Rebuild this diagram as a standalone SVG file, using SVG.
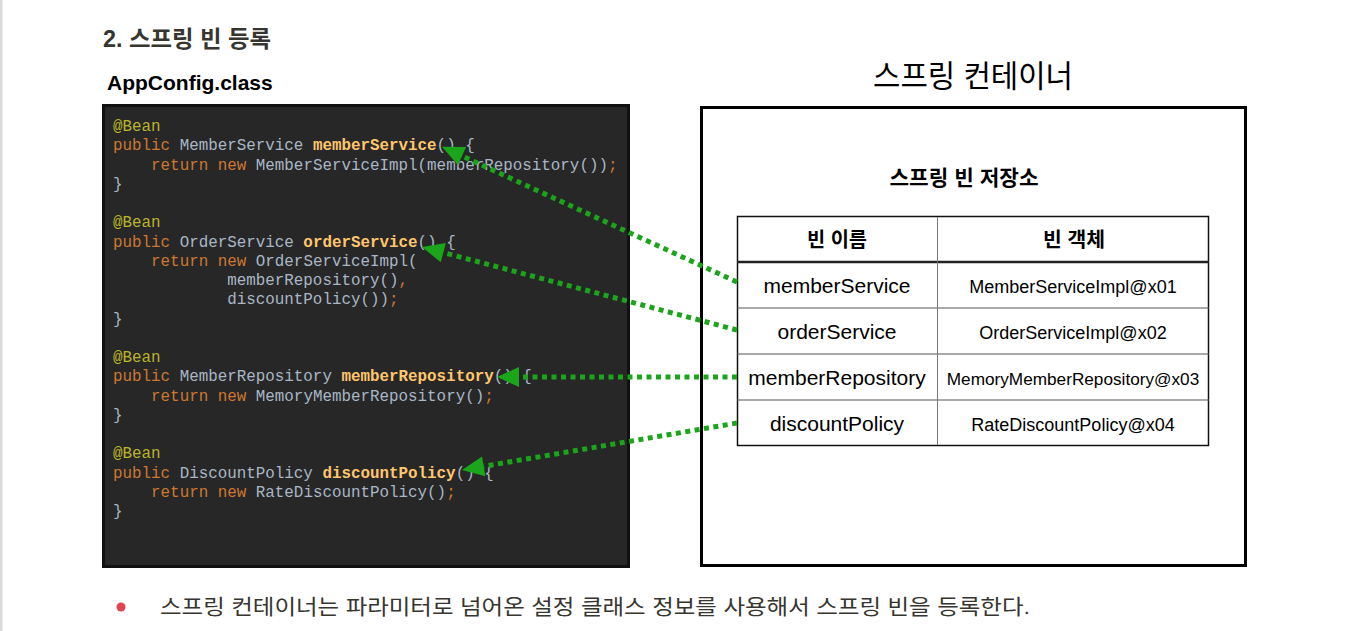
<svg xmlns="http://www.w3.org/2000/svg" width="1345" height="631" viewBox="0 0 1345 631">
<style>
.code{font-family:"Liberation Mono","DejaVu Sans Mono",monospace;font-size:15.87px;fill:#a9b7c6;white-space:pre}
.an{fill:#bbb529}
.kw{fill:#cc7832}
.me{fill:#ffc66d;font-weight:bold}
.ko{font-family:"Liberation Sans","Noto Sans CJK KR",sans-serif}
.cell{font-family:"Liberation Sans","Noto Sans CJK KR",sans-serif;fill:#000;text-anchor:middle}
.conn{fill:none;stroke:#1aa51a;stroke-width:5;stroke-dasharray:5 4.5;marker-end:url(#ah)}
.grid{stroke:#555;stroke-width:1}
</style>
<defs>
<marker id="ah" markerUnits="userSpaceOnUse" viewBox="0 -10 22 20" markerWidth="22" markerHeight="20" refX="0" refY="0" orient="auto" overflow="visible">
<path d="M0,-10 L22,0 L0,10 Z" fill="#1aa51a"/>
</marker>
</defs>
<rect width="1345" height="631" fill="#fff"/>
<rect x="0" y="0" width="2.5" height="631" fill="#d9d9d9"/>

<g id="heading">
<text class="ko" x="103" y="47" font-size="23" font-weight="bold" fill="#37352f" textLength="168" lengthAdjust="spacingAndGlyphs">2. 스프링 빈 등록</text>
</g>

<g id="appconfig">
<text class="ko" x="107" y="90" font-size="21" font-weight="bold" fill="#000">AppConfig.class</text>
<rect x="103.5" y="105.5" width="525" height="461" fill="#272727" stroke="#111" stroke-width="3"/>
<text class="code" xml:space="preserve" x="113" y="131"><tspan class="an">@Bean</tspan></text>
<text class="code" xml:space="preserve" x="113" y="150.25"><tspan class="kw">public</tspan> MemberService <tspan class="me">memberService</tspan>() {</text>
<text class="code" xml:space="preserve" x="113" y="169.5">    <tspan class="kw">return</tspan> <tspan class="kw">new</tspan> MemberServiceImpl(memberRepository())<tspan class="kw">;</tspan></text>
<text class="code" xml:space="preserve" x="113" y="188.75">}</text>
<text class="code" xml:space="preserve" x="113" y="227.25"><tspan class="an">@Bean</tspan></text>
<text class="code" xml:space="preserve" x="113" y="246.5"><tspan class="kw">public</tspan> OrderService <tspan class="me">orderService</tspan>() {</text>
<text class="code" xml:space="preserve" x="113" y="265.75">    <tspan class="kw">return</tspan> <tspan class="kw">new</tspan> OrderServiceImpl(</text>
<text class="code" xml:space="preserve" x="113" y="285">            memberRepository()<tspan class="kw">,</tspan></text>
<text class="code" xml:space="preserve" x="113" y="304.25">            discountPolicy())<tspan class="kw">;</tspan></text>
<text class="code" xml:space="preserve" x="113" y="323.5">}</text>
<text class="code" xml:space="preserve" x="113" y="362"><tspan class="an">@Bean</tspan></text>
<text class="code" xml:space="preserve" x="113" y="381.25"><tspan class="kw">public</tspan> MemberRepository <tspan class="me">memberRepository</tspan>() {</text>
<text class="code" xml:space="preserve" x="113" y="400.5">    <tspan class="kw">return</tspan> <tspan class="kw">new</tspan> MemoryMemberRepository()<tspan class="kw">;</tspan></text>
<text class="code" xml:space="preserve" x="113" y="419.75">}</text>
<text class="code" xml:space="preserve" x="113" y="458.25"><tspan class="an">@Bean</tspan></text>
<text class="code" xml:space="preserve" x="113" y="477.5"><tspan class="kw">public</tspan> DiscountPolicy <tspan class="me">discountPolicy</tspan>() {</text>
<text class="code" xml:space="preserve" x="113" y="496.75">    <tspan class="kw">return</tspan> <tspan class="kw">new</tspan> RateDiscountPolicy()<tspan class="kw">;</tspan></text>
<text class="code" xml:space="preserve" x="113" y="516">}</text>
</g>

<g id="spring-container">
<text class="ko" x="973" y="87" font-size="31" fill="#000" text-anchor="middle" textLength="200" lengthAdjust="spacingAndGlyphs">스프링 컨테이너</text>
<rect x="701.5" y="107.5" width="544" height="458" fill="#fff" stroke="#000" stroke-width="3"/>
<text class="ko" x="964" y="185" font-size="21" font-weight="bold" fill="#000" text-anchor="middle" textLength="149" lengthAdjust="spacingAndGlyphs">스프링 빈 저장소</text>
</g>

<g id="bean-table">
<rect x="737.5" y="216.5" width="471" height="229" fill="#fff" stroke="#111" stroke-width="1.5"/>
<line x1="737" y1="262" x2="1209" y2="262" stroke="#222" stroke-width="2.5"/>
<line class="grid" x1="737" y1="308" x2="1209" y2="308"/>
<line class="grid" x1="737" y1="354" x2="1209" y2="354"/>
<line class="grid" x1="737" y1="400" x2="1209" y2="400"/>
<line x1="937.5" y1="217" x2="937.5" y2="445" stroke="#777" stroke-width="1"/>
<g id="header">
<text class="cell" x="837" y="247" font-size="20" font-weight="bold" textLength="60" lengthAdjust="spacingAndGlyphs">빈 이름</text>
<text class="cell" x="1074" y="247" font-size="20" font-weight="bold" textLength="62" lengthAdjust="spacingAndGlyphs">빈 객체</text>
</g>
<g id="row-memberService">
<text class="cell" x="837" y="293" font-size="21">memberService</text>
<text class="cell" x="1073" y="293" font-size="18">MemberServiceImpl@x01</text>
</g>
<g id="row-orderService">
<text class="cell" x="837" y="339" font-size="21">orderService</text>
<text class="cell" x="1073" y="339" font-size="18">OrderServiceImpl@x02</text>
</g>
<g id="row-memberRepository">
<text class="cell" x="837" y="385" font-size="21">memberRepository</text>
<text class="cell" x="1073" y="385" font-size="17.2">MemoryMemberRepository@x03</text>
</g>
<g id="row-discountPolicy">
<text class="cell" x="837" y="431" font-size="21">discountPolicy</text>
<text class="cell" x="1073" y="431" font-size="18">RateDiscountPolicy@x04</text>
</g>
</g>

<g id="connectors">
<path class="conn" d="M737,282 L462,156"/>
<path class="conn" d="M737,330 L443.3,252.6"/>
<path class="conn" d="M737,377 L519,377"/>
<path class="conn" d="M737,423 L483.7,466.3"/>
</g>

<g id="note">
<circle cx="121" cy="607" r="4.5" fill="#e0464f"/>
<text class="ko" x="160" y="614" font-size="21" fill="#37352f" textLength="870" lengthAdjust="spacingAndGlyphs">스프링 컨테이너는 파라미터로 넘어온 설정 클래스 정보를 사용해서 스프링 빈을 등록한다.</text>
</g>
</svg>
